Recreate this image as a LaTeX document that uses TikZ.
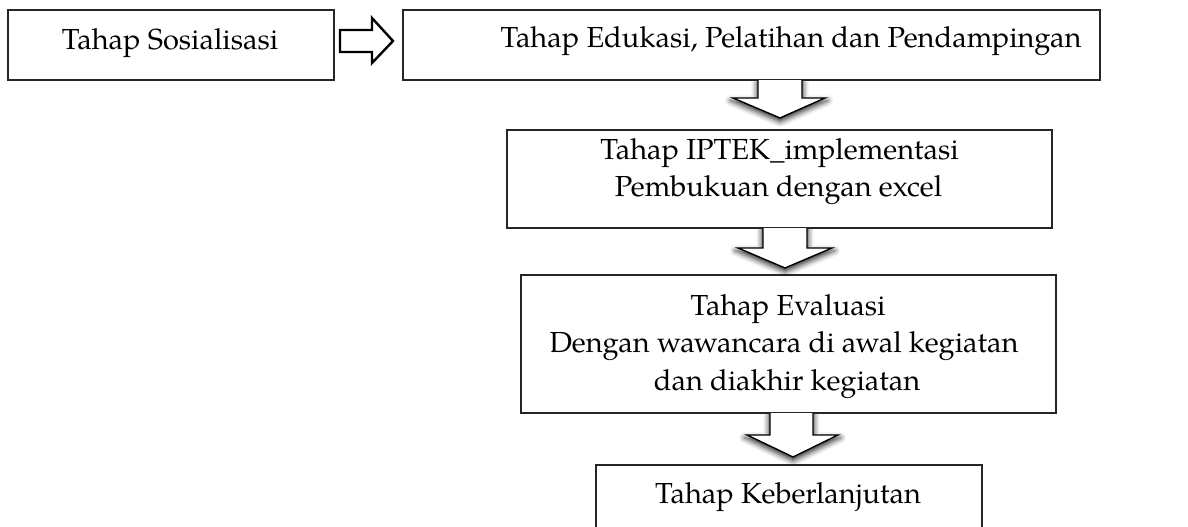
\documentclass[tikz,border=0pt]{standalone}
\usepackage{fontspec}
\setmainfont{TeX Gyre Pagella}
\usetikzlibrary{shadows.blur}
\tikzset{
  box/.style={draw=black!85, line width=1.2pt, rectangle, inner sep=0pt},
  txt/.style={anchor=base, inner sep=0pt, font=\fontsize{29}{35}\selectfont},
  blockarrow/.style={draw=black, line width=1.4pt, fill=white, line join=miter},
  downarrow/.style={blockarrow, blur shadow={shadow xshift=0pt, shadow yshift=-2.5pt, shadow blur radius=5pt, shadow opacity=80, shadow scale=1.06}},
}
\begin{document}
\begin{tikzpicture}[x=1pt,y=-1pt]
\useasboundingbox (0,0) rectangle (1188,527);
% boxes
\node[box, minimum width=326pt, minimum height=70pt] (b1) at (171,45) {};
\node[box, minimum width=697pt, minimum height=70pt] (b2) at (751.5,45) {};
\node[box, minimum width=545pt, minimum height=98pt] (b3) at (779.5,179) {};
\node[box, minimum width=535pt, minimum height=138pt] (b4) at (788.5,344) {};
\node[box, minimum width=386pt, minimum height=70pt] (b5) at (789,500) {};
% texts
\node[txt] (t1) at (170,50) {Tahap Sosialisasi};
\node[txt] (t2) at (791,48) {Tahap Edukasi, Pelatihan dan Pendampingan};
\node[txt] (t3a) at (779.5,159) {Tahap IPTEK\_implementasi};
\node[txt] (t3b) at (778.5,196) {Pembukuan dengan excel};
\node[txt] (t4a) at (788,315) {Tahap Evaluasi};
\node[txt] (t4b) at (784,352) {Dengan wawancara di awal kegiatan};
\node[txt] (t4c) at (787,390) {dan diakhir kegiatan};
\node[txt] (t5) at (788,503) {Tahap Keberlanjutan};
% right block arrow
\draw[blockarrow, line width=2.4pt] (340,30) -- (372,30) -- (372,18) -- (393,41) -- (372,63) -- (372,52) -- (340,52) -- cycle;
% down block arrows
\draw[downarrow] (758,80) -- (758,98) -- (733,98) -- (780,118) -- (825,98) -- (802,98) -- (802,80);
\draw[downarrow] (763,228) -- (763,248) -- (738,248) -- (785,268) -- (832,248) -- (807,248) -- (807,228);
\draw[downarrow] (770,413) -- (770,435) -- (747,435) -- (793,457) -- (838,435) -- (813,435) -- (813,413);
\end{tikzpicture}
\end{document}
